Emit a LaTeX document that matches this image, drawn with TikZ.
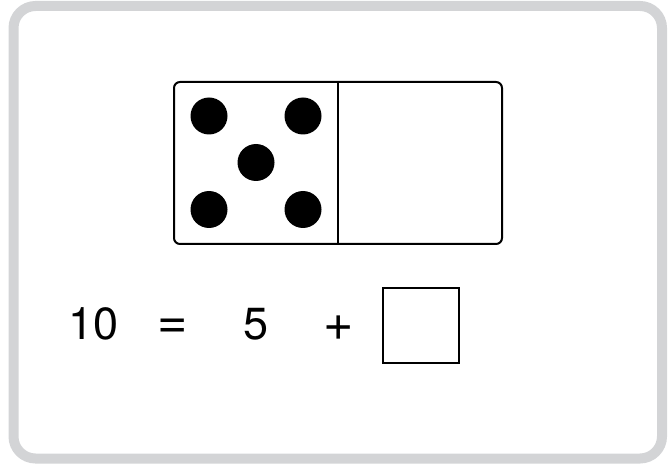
\documentclass[tikz,border=0pt]{standalone}
\usepackage{fontspec}
\setmainfont{TeX Gyre Heros}
\definecolor{framegray}{RGB}{211,212,214}

\begin{document}
\begin{tikzpicture}[x=1pt,y=-1pt,
  every node/.style={font=\fontsize{45}{45}\selectfont,inner sep=0pt},
  frame/.style={draw=framegray,line width=10pt,rounded corners=22pt},
  domino/.style={draw,line width=2pt,rounded corners=6pt,
    minimum width=328pt,minimum height=162pt},
  pip/.style={circle,fill=black,minimum size=37pt},
  term/.style={anchor=base},
  sign/.style={term,font=\fontsize{52}{52}\selectfont},
  answer/.style={draw,line width=2pt,minimum width=76pt,minimum height=75pt}]
  \useasboundingbox (0,0) rectangle (672,465);
  \draw[frame] (13.5,6) rectangle (662,458.5);
  \node[domino] (dom) at (338,163) {};
  \draw[line width=2pt] (dom.north) -- (dom.south);
  \node[pip] (p1) at (209,116) {};
  \node[pip] (p2) at (303,116) {};
  \node[pip] (p3) at (256,162.5) {};
  \node[pip] (p4) at (209,209.5) {};
  \node[pip] (p5) at (303,209.5) {};
  \node[term] (ten) at (93.5,339.5) {10};
  \node[sign] (eq) at (173,338) {=};
  \node[term] (five) at (255.8,339.5) {5};
  \node[sign] (plus) at (338.5,340) {+};
  \node[answer] (ans) at (421.3,325.5) {};
\end{tikzpicture}
\end{document}
